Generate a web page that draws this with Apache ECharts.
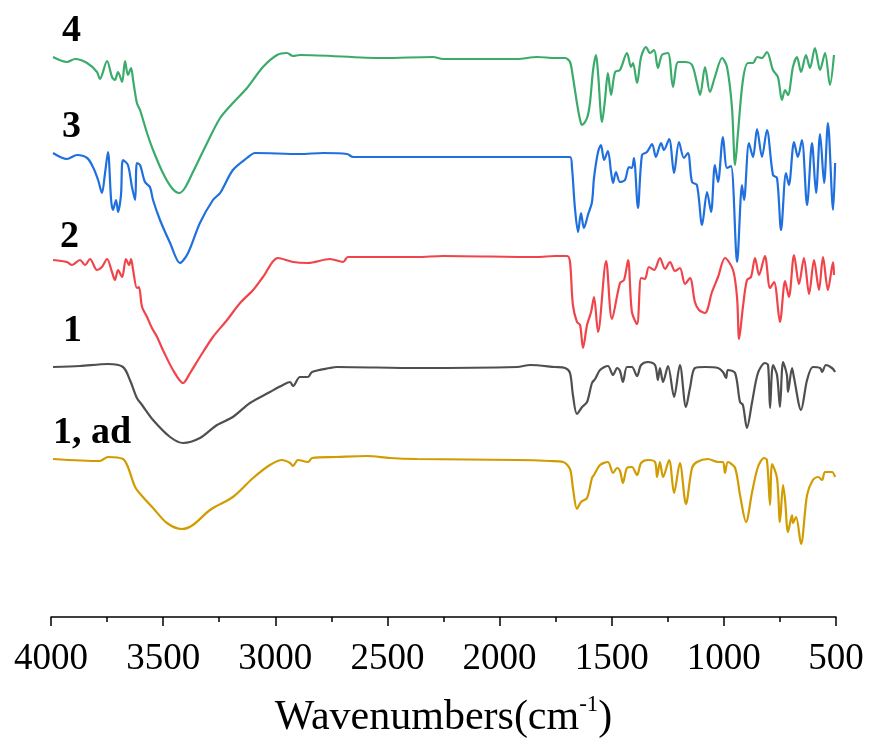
<!DOCTYPE html>
<html>
<head>
<meta charset="utf-8">
<script src="https://cdn.jsdelivr.net/npm/echarts@6/dist/echarts.min.js"></script>
<style>
html,body{margin:0;padding:0;background:#fff;}
#chart{width:869px;height:740px;}
</style>
</head>
<body>
<div id="chart"></div>
<script>
// Wavenumber axis ticks
var xTicks = [4000, 3500, 3000, 2500, 2000, 1500, 1000, 500];
var seriesNames = ['4', '3', '2', '1', '1, ad'];

// Curve 4 (green)
var wn4 = [3991,3929,3893,3839,3795,3782,3750,3728,3715,3701,3683,3670,3657,3643,3634,3617,3603,3572,3545,3501,3461,3429,3403,3367,3304,3246,3189,3126,3055,2992,2948,2921,2890,2520,2297,2252,1922,1833,1753,1708,1686,1673,1655,1641,1632,1610,1597,1583,1570,1561,1543,1530,1517,1503,1485,1463,1432,1414,1405,1387,1369,1347,1329,1311,1294,1276,1249,1227,1204,1173,1142,1120,1106,1084,1062,1040,1008,986,964,950,937,915,892,870,852,830,808,781,759,741,727,714,692,674,656,634,616,594,571,549,527,509];
var t4 = [560,555,558,554,545,538,556,540,537,545,535,556,542,549,537,514,507,484,467,444,429,424,429,445,474,499,514,529,550,562,564,561,562,559,560,558,558,560,559,559,555,540,514,497,492,499,514,547,562,544,495,517,544,522,545,547,564,550,554,534,560,570,564,567,549,562,564,530,555,555,552,534,522,550,525,540,559,550,510,452,484,537,554,554,560,559,565,547,540,517,527,522,550,560,545,562,549,569,547,564,532,562];

// Curve 3 (blue)
var wn3 = [3991,3929,3884,3839,3813,3790,3773,3759,3746,3732,3724,3710,3701,3688,3679,3657,3639,3625,3617,3603,3581,3559,3545,3514,3469,3425,3389,3336,3278,3246,3189,3126,3090,2890,2787,2680,2653,2221,1753,1686,1677,1664,1650,1637,1624,1606,1588,1579,1561,1548,1534,1517,1503,1494,1481,1463,1441,1423,1410,1401,1383,1365,1343,1320,1303,1280,1267,1244,1222,1200,1178,1160,1142,1120,1097,1075,1057,1040,1026,1004,986,968,941,919,910,888,870,852,830,808,781,763,745,723,710,687,670,652,629,607,589,571,553,536,513,504];
var t3 = [464,458,462,459,450,437,424,444,465,417,407,417,405,422,457,452,430,417,454,452,435,430,417,397,374,354,364,394,417,424,447,459,464,463,464,463,460,460,460,460,449,409,385,404,389,402,415,439,465,472,457,466,445,434,445,435,437,450,449,459,409,462,465,473,460,474,467,478,444,475,459,464,435,432,392,425,405,452,435,480,449,451,355,432,417,474,460,488,460,487,442,439,387,444,432,475,460,477,412,474,424,483,434,494,407,454];

// Curve 2 (red)
var wn2 = [3991,3929,3906,3871,3848,3826,3795,3773,3750,3728,3715,3701,3683,3666,3652,3643,3634,3617,3608,3594,3572,3550,3527,3501,3456,3411,3380,3336,3278,3215,3157,3099,3055,2988,2921,2854,2756,2698,2676,2368,2252,1833,1753,1699,1686,1673,1655,1641,1628,1610,1592,1579,1561,1525,1499,1463,1445,1427,1410,1387,1369,1352,1334,1311,1285,1262,1240,1218,1196,1173,1151,1129,1111,1084,1053,1026,995,959,941,932,915,897,879,861,843,817,794,776,750,727,710,687,665,643,620,598,576,558,536,513,509];
var t2 = [357,355,352,357,352,358,347,350,358,345,337,347,340,358,352,358,347,329,330,310,300,289,280,267,247,234,244,260,280,297,314,327,340,359,355,354,358,355,360,360,361,360,361,361,355,312,295,292,269,292,305,320,285,356,298,334,337,357,305,293,339,338,350,347,359,348,355,346,349,333,339,315,307,304,325,340,359,347,319,278,310,337,340,359,342,361,329,335,295,336,320,362,333,359,323,357,327,360,327,355,342];

// Curve 1 (dark grey)
var wn1 = [3991,3871,3746,3679,3648,3617,3594,3545,3469,3411,3336,3260,3189,3113,3024,2966,2934,2921,2890,2854,2836,2756,2725,2368,1922,1864,1753,1708,1686,1673,1655,1632,1610,1588,1574,1552,1517,1494,1476,1463,1450,1432,1410,1387,1369,1338,1307,1294,1285,1271,1249,1222,1196,1169,1151,1129,1084,1026,1004,990,982,950,928,915,897,874,848,817,803,794,781,763,750,736,719,714,696,687,656,629,603,571,562,545,518,504];
var t1 = [250,251,253,250,237,219,212,197,180,174,179,192,200,214,225,232,235,231,240,240,245,249,250,249,250,252,250,249,244,222,203,210,215,234,238,247,251,242,249,246,235,250,250,241,252,255,252,237,249,235,251,220,252,210,229,249,250,249,245,239,247,244,215,212,189,215,244,254,252,209,252,242,210,255,242,225,249,239,207,237,250,249,245,252,249,245];

// Curve 1, ad (gold)
var wn1ad = [3991,3782,3746,3679,3657,3625,3590,3545,3483,3416,3367,3291,3189,3099,3024,2970,2934,2921,2899,2854,2836,2725,2591,2489,2368,1922,1775,1717,1686,1673,1655,1637,1610,1588,1579,1552,1517,1494,1476,1463,1450,1432,1410,1387,1369,1338,1307,1298,1285,1271,1244,1222,1196,1169,1142,1120,1071,1026,1004,995,982,950,928,901,874,848,821,808,794,785,763,750,736,727,714,696,692,678,656,629,603,580,562,549,518,504];
var t1ad = [158,156,160,158,150,130,120,109,94,88,92,107,120,139,152,157,154,151,157,155,159,160,161,159,158,157,156,155,148,129,108,115,119,139,142,152,155,144,149,146,134,149,150,142,154,157,155,140,155,140,157,124,154,113,149,155,158,155,155,144,155,149,122,95,125,150,159,157,112,153,139,95,132,117,85,102,94,100,73,122,137,140,137,145,145,140];

var colors = ['#3bab6b', '#1f6fde', '#f0444a', '#4f4f4f', '#d19c00'];
var wnList = [wn4, wn3, wn2, wn1, wn1ad];
var tList = [t4, t3, t2, t1, t1ad];

var series = seriesNames.map(function (name, k) {
  return {
    name: name,
    type: 'line',
    showSymbol: false,
    smooth: 0.3,
    lineStyle: { width: 2.2, color: colors[k] },
    itemStyle: { color: colors[k] },
    data: wnList[k].map(function (w, i) { return [w, tList[k][i]]; }),
    z: 3
  };
});

// Curve labels
var labelY = [31, 127, 237, 331, 433];
var labelX = [62, 62, 60, 63, 53];
var graphics = seriesNames.map(function (name, k) {
  return {
    type: 'text',
    x: labelX[k],
    y: labelY[k],
    style: {
      text: name,
      fill: '#000',
      font: 'bold 38px "Liberation Serif", "Times New Roman", serif',
      verticalAlign: 'middle',
      align: 'left'
    }
  };
});

var chart = echarts.init(document.getElementById('chart'), null, { renderer: 'canvas' });
chart.setOption({
  animation: false,
  backgroundColor: '#fff',
  grid: { left: 51, right: 33, top: 0, bottom: 123, containLabel: false, outerBoundsMode: 'none' },
  xAxis: {
    type: 'value',
    inverse: true,
    min: 500,
    max: 4000,
    interval: 500,
    name: '{a|Wavenumbers(cm}{b|-1}{a|)}',
    nameLocation: 'middle',
    nameGap: 76,
    nameTextStyle: {
      rich: {
        a: { fontFamily: '"Liberation Serif", "Times New Roman", serif', fontSize: 42, color: '#000', verticalAlign: 'bottom', lineHeight: 46 },
        b: { fontFamily: '"Liberation Serif", "Times New Roman", serif', fontSize: 23, color: '#000', verticalAlign: 'top', lineHeight: 46, padding: [0, 0, 18, 0] }
      }
    },
    axisLine: { show: true, lineStyle: { color: '#000', width: 1.5 } },
    axisTick: { show: true, inside: false, length: 9, lineStyle: { color: '#000', width: 1.5 } },
    minorTick: { show: true, splitNumber: 2, length: 5, lineStyle: { color: '#000', width: 1.5 } },
    axisLabel: {
      color: '#000',
      fontFamily: '"Liberation Serif", "Times New Roman", serif',
      fontSize: 37,
      margin: 24,
      formatter: function (v) { return xTicks.indexOf(v) >= 0 ? String(v) : ''; }
    },
    splitLine: { show: false }
  },
  yAxis: {
    type: 'value',
    min: 0,
    max: 617,
    show: false
  },
  graphic: graphics,
  series: series
});
</script>
</body>
</html>
